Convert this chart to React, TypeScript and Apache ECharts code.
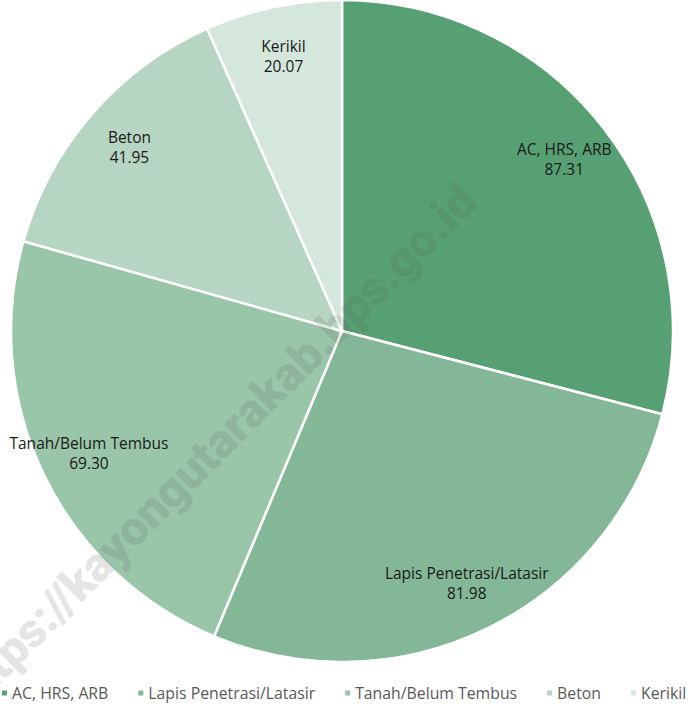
import React, { useEffect, useRef } from "react";
import * as echarts from "echarts";

const categories = ["AC, HRS, ARB", "Lapis Penetrasi/Latasir", "Tanah/Belum Tembus", "Beton", "Kerikil"];
const values = [87.31, 81.98, 69.3, 41.95, 20.07];
const colors = ["#57a074", "#83b797", "#99c5a9", "#b7d5c3", "#d5e7dc"];
const watermark = "https://kayongutarakab.bps.go.id";

export default function App() {
  const ref = useRef<HTMLDivElement>(null);
  useEffect(() => {
    document.body.style.margin = "0";
    const chart = echarts.init(ref.current!, null, { renderer: "svg" });
    const data = categories.map((name, i) => ({ name, value: values[i] }));
    const font = "'Open Sans', 'Noto Sans', sans-serif";
    chart.setOption({
      animation: false,
      color: colors,
      legend: {
        bottom: 3,
        left: 0,
        width: 688,
        padding: 0,
        itemWidth: 7,
        itemHeight: 7,
        itemGap: 28,
        icon: "rect",
        textStyle: { fontFamily: font, fontSize: 15.8, color: "#595959", padding: [0, 0, 0, -1] },
        data: categories,
      },
      series: [
        {
          type: "pie",
          center: [342, 331],
          radius: [0, 331],
          startAngle: 90,
          clockwise: true,
          data,
          itemStyle: { borderColor: "#ffffff", borderWidth: 2.5 },
          label: { show: false },
          labelLine: { show: false },
          emphasis: { disabled: true },
        },
        {
          type: "pie",
          center: [342, 331],
          radius: [218, 338],
          startAngle: 90,
          clockwise: true,
          silent: true,
          data,
          itemStyle: { color: "rgba(0,0,0,0)", borderWidth: 0 },
          label: {
            show: true,
            position: "inside",
            formatter: (p: any) => `${p.name}\n${p.value.toFixed(2)}`,
            fontFamily: font,
            fontSize: 15.5,
            lineHeight: 20,
            color: "#1a1a1a",
            align: "center",
          },
          labelLine: { show: false },
          emphasis: { disabled: true },
        },
      ],
      graphic: [
        {
          type: "text",
          x: 214,
          y: 447,
          rotation: Math.PI / 4,
          z: 100,
          silent: true,
          style: {
            text: watermark,
            fontFamily: "Roboto, 'Liberation Sans', Arial, sans-serif",
            fontWeight: 900,
            fontSize: 48,
            fill: "rgba(90,90,90,0.17)",
            align: "center",
            verticalAlign: "middle",
          },
        },
      ],
    });
    return () => chart.dispose();
  }, []);
  return <div ref={ref} style={{ position: "absolute", left: 0, top: 0, width: 688, height: 704 }} />;
}
